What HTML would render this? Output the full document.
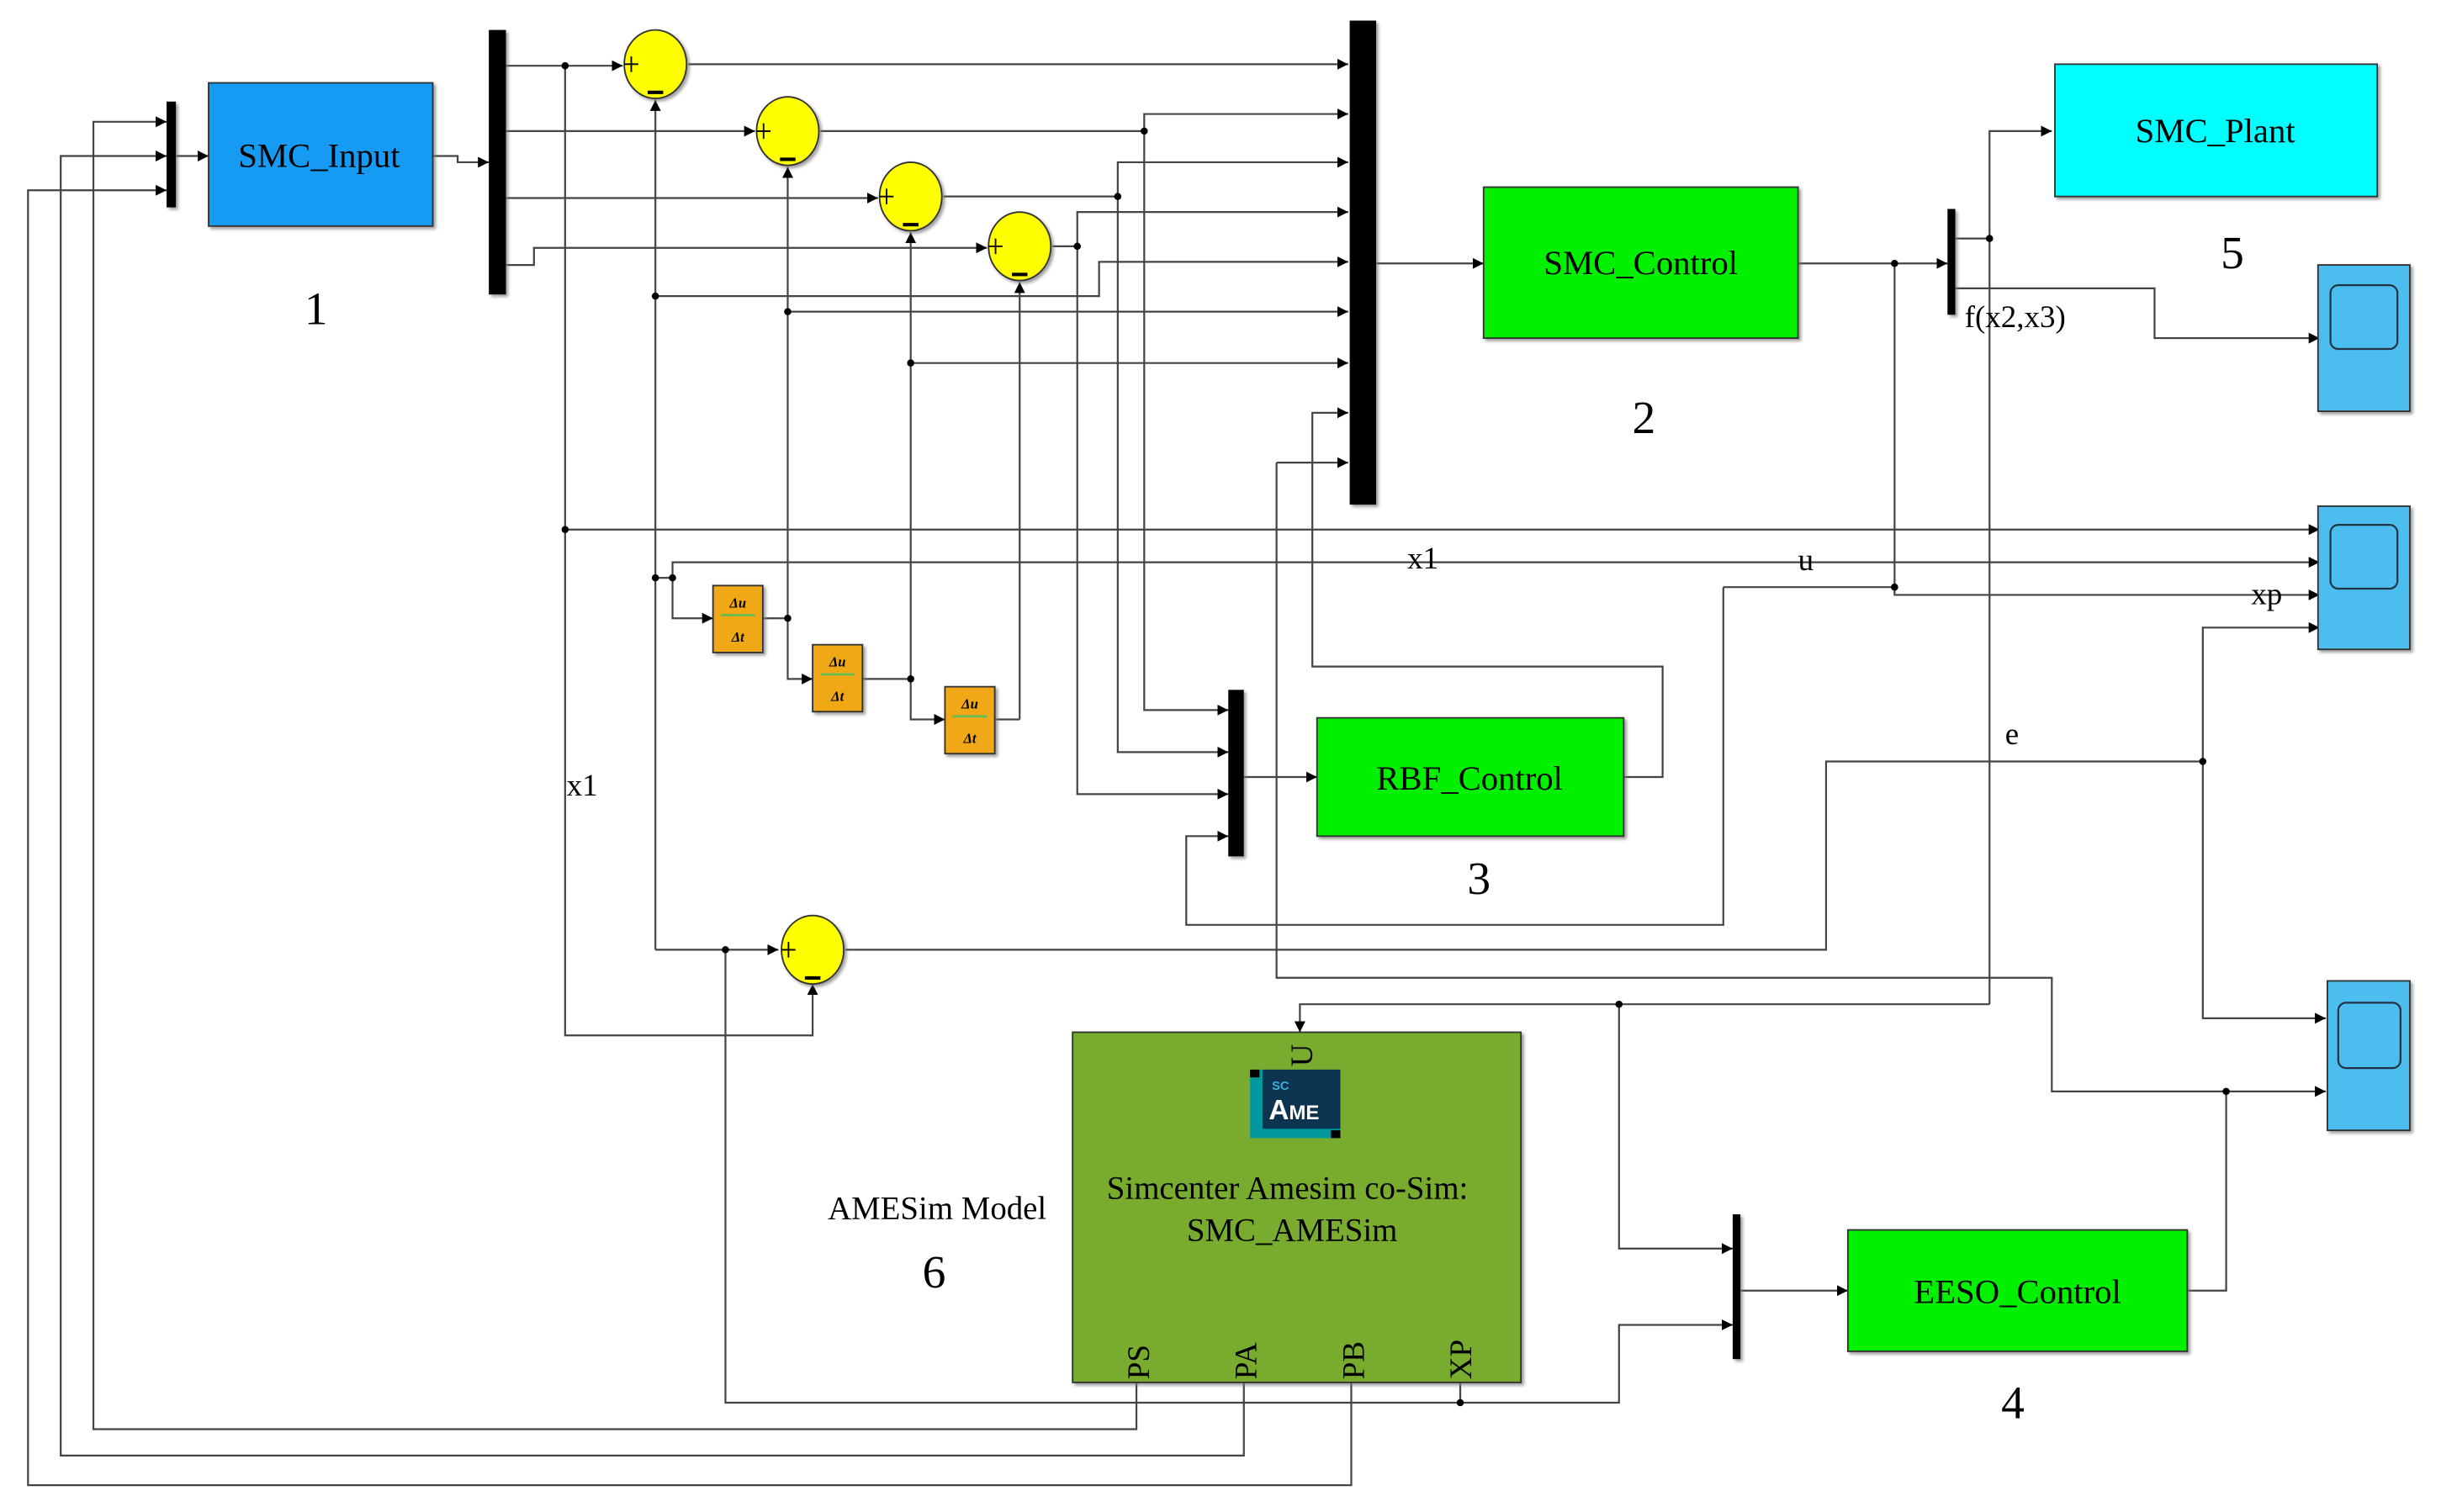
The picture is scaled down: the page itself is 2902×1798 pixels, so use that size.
<!DOCTYPE html>
<html><head><meta charset="utf-8"><style>
html,body{margin:0;padding:0;background:#fff;}
svg{display:block;}
text{font-family:"Liberation Serif",serif;fill:#000;}
</style></head><body>
<svg width="2902" height="1798" viewBox="0 0 1568 971" xmlns="http://www.w3.org/2000/svg">
<defs>
<marker id="a" viewBox="0 0 10 10" refX="10" refY="5" markerWidth="7" markerHeight="7" markerUnits="userSpaceOnUse" orient="auto"><path d="M0,0L10,5L0,10z" fill="#000"/></marker>
<filter id="sh" x="-5%" y="-5%" width="115%" height="115%"><feDropShadow dx="1.5" dy="1.5" stdDeviation="1" flood-color="#777" flood-opacity="0.7"/></filter>
</defs>
<g fill="none" stroke="#444" stroke-width="1.2">
<!-- feedback to mux1 -->
<path d="M730,888V918H60V78H107" marker-end="url(#a)"/>
<path d="M799,888V935H39V100H107" marker-end="url(#a)"/>
<path d="M868,888V954H18V122H107" marker-end="url(#a)"/>
<path d="M113,100H134" marker-end="url(#a)"/>
<path d="M278,100H294V104H314" marker-end="url(#a)"/>
<!-- demux outs -->
<path d="M325,42H400" marker-end="url(#a)"/>
<path d="M325,84H485" marker-end="url(#a)"/>
<path d="M325,127H564" marker-end="url(#a)"/>
<path d="M325,170H343V159H634" marker-end="url(#a)"/>
<!-- x1 vertical -->
<path d="M363,42V665H522V632" marker-end="url(#a)"/>
<path d="M363,340H1490" marker-end="url(#a)"/>
<!-- sums out -->
<path d="M442,41H866" marker-end="url(#a)"/>
<path d="M527,84H735V73H866" marker-end="url(#a)"/>
<path d="M735,84V456H789" marker-end="url(#a)"/>
<path d="M606,126H718V104H866" marker-end="url(#a)"/>
<path d="M718,126V483H789" marker-end="url(#a)"/>
<path d="M676,158H692V136H866" marker-end="url(#a)"/>
<path d="M692,158V510H789" marker-end="url(#a)"/>
<!-- minus inputs -->
<path d="M421,610V190H706V168H866" marker-end="url(#a)"/>
<path d="M421,190V64" marker-end="url(#a)"/>
<path d="M506,200H866" marker-end="url(#a)"/>
<path d="M506,397V107" marker-end="url(#a)"/>
<path d="M585,233H866" marker-end="url(#a)"/>
<path d="M585,436V149" marker-end="url(#a)"/>
<path d="M655,462V181" marker-end="url(#a)"/>
<path d="M639,462H655"/>
<!-- du/dt chain -->
<path d="M421,371H432V397H458" marker-end="url(#a)"/>
<path d="M432,371V361H1490" marker-end="url(#a)"/>
<path d="M490,397H506V436H522" marker-end="url(#a)"/>
<path d="M554,436H585V462H607" marker-end="url(#a)"/>
<!-- RBF feedback to big mux -->
<path d="M1043,499H1068V428H843V265H866" marker-end="url(#a)"/>
<path d="M820,297H866" marker-end="url(#a)"/>
<path d="M820,297V628H1318V701H1494" marker-end="url(#a)"/>
<!-- big mux out -->
<path d="M884,169H953" marker-end="url(#a)"/>
<path d="M799,499H846" marker-end="url(#a)"/>
<path d="M1155,169H1251" marker-end="url(#a)"/>
<path d="M1217,169V382H1490" marker-end="url(#a)"/>
<path d="M1107,377H1217"/>
<path d="M1107,377V594H762V537H789" marker-end="url(#a)"/>
<!-- f mux outs -->
<path d="M1256,153H1278"/>
<path d="M1278,645V84H1318" marker-end="url(#a)"/>
<path d="M1256,185H1384V217H1490" marker-end="url(#a)"/>
<path d="M1278,645H835V663" marker-end="url(#a)"/>
<path d="M1040,645V802H1113" marker-end="url(#a)"/>
<!-- e -->
<path d="M543,610H1173V489H1415"/>
<path d="M1415,489V403H1490" marker-end="url(#a)"/>
<path d="M1415,489V654H1494" marker-end="url(#a)"/>
<path d="M421,610H500" marker-end="url(#a)"/>
<path d="M466,610V901H1040V851H1113" marker-end="url(#a)"/>
<path d="M938,888V901"/>
<path d="M1118,829H1187" marker-end="url(#a)"/>
<path d="M1405,829H1430V701"/>
</g>
<!-- dots -->
<g fill="#000">
<circle cx="363" cy="42" r="2.3"/><circle cx="363" cy="340" r="2.3"/>
<circle cx="735" cy="84" r="2.3"/><circle cx="718" cy="126" r="2.3"/><circle cx="692" cy="158" r="2.3"/>
<circle cx="421" cy="190" r="2.3"/><circle cx="506" cy="200" r="2.3"/><circle cx="585" cy="233" r="2.3"/>
<circle cx="421" cy="371" r="2.3"/><circle cx="432" cy="371" r="2.3"/>
<circle cx="506" cy="397" r="2.3"/><circle cx="585" cy="436" r="2.3"/>
<circle cx="1217" cy="169" r="2.3"/><circle cx="1217" cy="377" r="2.3"/><circle cx="1278" cy="153" r="2.3"/>
<circle cx="1415" cy="489" r="2.3"/><circle cx="1430" cy="701" r="2.3"/>
<circle cx="1040" cy="645" r="2.3"/><circle cx="466" cy="610" r="2.3"/><circle cx="938" cy="901" r="2.3"/>
</g>
<!-- mux bars -->
<g fill="#000" filter="url(#sh)">
<rect x="107" y="65" width="6" height="68"/>
<rect x="314" y="19" width="11" height="170"/>
<rect x="867" y="13" width="17" height="311"/>
<rect x="789" y="443" width="10" height="107"/>
<rect x="1251" y="134" width="5" height="68"/>
<rect x="1113" y="780" width="5" height="93"/>
</g>
<!-- blocks -->
<g filter="url(#sh)" stroke="#333" stroke-width="1">
<rect x="134" y="53" width="144" height="92" fill="#159bf5"/>
<rect x="953" y="120" width="202" height="97" fill="#00f000"/>
<rect x="846" y="461" width="197" height="76" fill="#00f000"/>
<rect x="1187" y="790" width="218" height="78" fill="#00f000"/>
<rect x="1320" y="41" width="207" height="85" fill="#00ffff"/>
<rect x="689" y="663" width="288" height="225" fill="#79ac2f"/>
<rect x="1489" y="170" width="59" height="94" fill="#4bbdee"/>
<rect x="1489" y="325" width="59" height="92" fill="#4bbdee"/>
<rect x="1495" y="630" width="53" height="96" fill="#4bbdee"/>
<rect x="458" y="376" width="32" height="43" fill="#f0a818"/>
<rect x="522" y="414" width="32" height="43" fill="#f0a818"/>
<rect x="607" y="441" width="32" height="43" fill="#f0a818"/>
<ellipse cx="421" cy="41" rx="20" ry="22" fill="#ffff00"/>
<ellipse cx="506" cy="84" rx="20" ry="22" fill="#ffff00"/>
<ellipse cx="585" cy="126" rx="20" ry="22" fill="#ffff00"/>
<ellipse cx="655" cy="158" rx="20" ry="22" fill="#ffff00"/>
<ellipse cx="522" cy="610" rx="20" ry="22" fill="#ffff00"/>
</g>
<!-- scope screens -->
<g fill="none" stroke="#234" stroke-width="1.2">
<rect x="1497" y="183" width="43" height="41" rx="5"/>
<rect x="1497" y="337" width="43" height="41" rx="5"/>
<rect x="1502" y="644" width="40" height="42" rx="5"/>
</g>
<!-- sum signs -->
<g stroke="#000" stroke-width="1">
<path d="M401,41h9M405.5,36v10M486,84h9M490.5,79v10M565,126h9M569.5,121v10M635,158h9M639.5,153v10M502,610h9M506.5,605v10"/>
</g>
<g fill="#000">
<rect x="416" y="58" width="10" height="2.2"/><rect x="501" y="101" width="10" height="2.2"/><rect x="580" y="143" width="10" height="2.2"/><rect x="650" y="175" width="10" height="2.2"/><rect x="517" y="627" width="10" height="2.2"/>
</g>
<!-- du/dt labels -->
<g font-size="9" font-weight="bold" font-style="italic" text-anchor="middle">
<text x="474" y="390">Δu</text><line x1="463" y1="395" x2="485" y2="395" stroke="#6b5" stroke-width="1.5"/><text x="474" y="412">Δt</text>
<text x="538" y="428">Δu</text><line x1="527" y1="433" x2="549" y2="433" stroke="#6b5" stroke-width="1.5"/><text x="538" y="450">Δt</text>
<text x="623" y="455">Δu</text><line x1="612" y1="460" x2="634" y2="460" stroke="#6b5" stroke-width="1.5"/><text x="623" y="477">Δt</text>
</g>
<!-- AME logo -->
<rect x="803" y="687" width="58" height="44" fill="#00989c"/>
<rect x="811" y="687" width="50" height="38" fill="#0c3450"/>
<rect x="803" y="687" width="6" height="5" fill="#000"/><rect x="855" y="726" width="6" height="5" fill="#000"/>
<text x="817" y="700" font-family="Liberation Sans,sans-serif" font-size="8" font-weight="bold" fill="#3ab0d8" style="fill:#3ab0d8;font-family:'Liberation Sans',sans-serif">SC</text>
<text x="815" y="719" font-size="18" font-weight="bold" style="fill:#fff;font-family:'Liberation Sans',sans-serif">A<tspan font-size="13">ME</tspan></text>
<!-- text -->
<g font-size="22" text-anchor="middle">
<text x="205" y="107">SMC_Input</text>
<text x="1054" y="176">SMC_Control</text>
<text x="944" y="507">RBF_Control</text>
<text x="1296" y="837">EESO_Control</text>
<text x="1423" y="91">SMC_Plant</text>
<text x="827" y="770" font-size="21">Simcenter Amesim co-Sim:</text>
<text x="830" y="797" font-size="21">SMC_AMESim</text>
<text x="602" y="783" font-size="21">AMESim Model</text>
</g>
<g font-size="30" text-anchor="middle">
<text x="203" y="208">1</text><text x="1056" y="278">2</text><text x="950" y="574">3</text>
<text x="1293" y="911">4</text><text x="1434" y="172">5</text><text x="600" y="827">6</text>
</g>
<g font-size="20">
<text x="1262" y="210">f(x2,x3)</text>
<text x="904" y="365">x1</text>
<text x="1155" y="366">u</text>
<text x="1446" y="388">xp</text>
<text x="1288" y="478">e</text>
<text x="364" y="511">x1</text>
</g>
<g font-size="20">
<text transform="translate(738,886) rotate(-90)">PS</text>
<text transform="translate(807,886) rotate(-90)">PA</text>
<text transform="translate(876,886) rotate(-90)">PB</text>
<text transform="translate(945,886) rotate(-90)">XP</text>
<text transform="translate(843,685) rotate(-90)">U</text>
</g>
</svg>
</body></html>
